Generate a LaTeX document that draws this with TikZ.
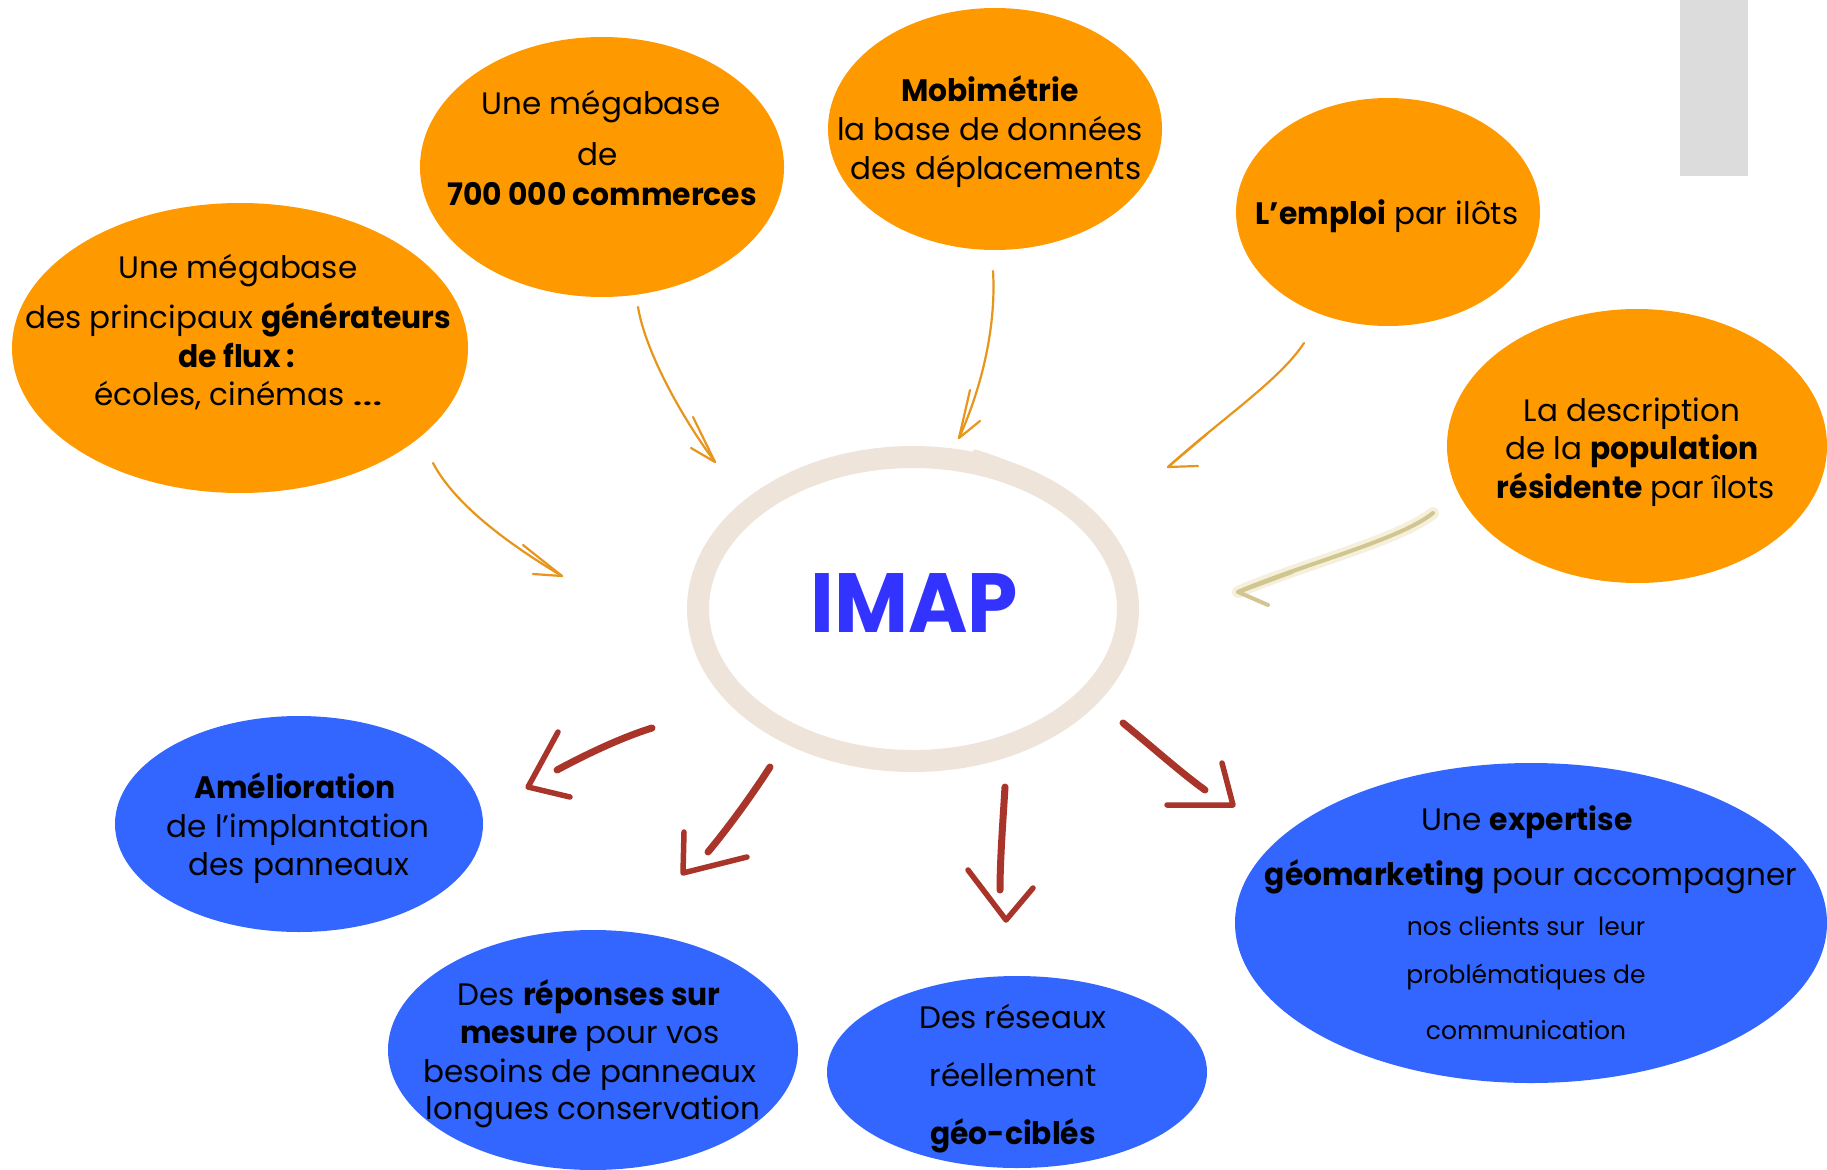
\documentclass[tikz,border=0pt]{standalone}
\usepackage{fontspec}
\usepackage{graphicx}
\setmainfont{Poppins}[BoldFeatures={FakeStretch=0.96}]
\usetikzlibrary{shapes.geometric}
\definecolor{orng}{HTML}{FF9900}
\definecolor{blu}{HTML}{3366FF}
\definecolor{imapblue}{HTML}{3333FF}
\definecolor{ringc}{HTML}{EFE4DA}
\definecolor{pen}{HTML}{E8951C}
\definecolor{brush}{HTML}{A8342A}
\definecolor{faded}{HTML}{D2C690}
\definecolor{fadedbg}{HTML}{F4F0DC}
\definecolor{greybar}{HTML}{DCDCDC}
\newcommand\txtm{\fontsize{31}{37}\selectfont}
\newcommand\txts{\fontsize{25}{30}\selectfont}
\begin{document}
\begin{tikzpicture}[x=1pt,y=-1pt,
  bubble/.style={ellipse, inner sep=0pt, draw=none},
  ob/.style={bubble, fill=orng},
  bb/.style={bubble, fill=blu},
  ln/.style={anchor=base, inner sep=0pt, font=\txtm},
  sm/.style={anchor=base, inner sep=0pt, font=\txts},
  penarrow/.style={draw=pen, line width=2.2pt, line cap=round, line join=round},
  redarrow/.style={draw=brush, line width=7pt, line cap=round, line join=round},
  fadearrow/.style={draw=faded, line width=4pt, line cap=round, line join=round},
]
\useasboundingbox (0,0) rectangle (1827,1169);
\clip (0,0) rectangle (1827,1169);
\fill[white] (0,0) rectangle (1827,1169);

% grey bar
\node[fill=greybar, minimum width=68, minimum height=176, inner sep=0pt, anchor=north west] (bar) at (1680,0) {};

% ellipses
\node[ob, minimum width=456, minimum height=290] (e1) at (240,348) {};
\node[ob, minimum width=364, minimum height=260] (e2) at (602,167) {};
\node[ob, minimum width=334, minimum height=242] (e3) at (995,129) {};
\node[ob, minimum width=304, minimum height=228] (e4) at (1388,212) {};
\node[ob, minimum width=380, minimum height=274] (e5) at (1637,446) {};
\node[bb, minimum width=368, minimum height=216] (e6) at (299,824) {};
\node[bb, minimum width=410, minimum height=240] (e7) at (593,1050) {};
\node[bb, minimum width=380, minimum height=192] (e8) at (1017,1072) {};
\node[bb, minimum width=592, minimum height=320] (e9) at (1531,923) {};

% central ring
\node[ellipse, draw=ringc, line width=22pt, minimum width=430, minimum height=304, inner sep=0pt] (ring) at (913,609) {};
\coordinate (tailA) at (975,452);
\coordinate (tailB) at (1068,500);
\draw[ringc, line width=5pt, line cap=round] (tailA) .. controls (1010,462) and (1040,478) .. (tailB);
\node[anchor=base, inner sep=0pt, text=imapblue, font=\bfseries\fontsize{84}{84}\selectfont] (imap) at (914,632) {IMAP};

% texts
\node[ln] (t1a) at (238,278) {Une mégabase};
\node[ln] (t1b) at (238,328) {des principaux \textbf{générateurs}};
\node[ln] (t1c) at (237,367) {\textbf{de flux :}};
\node[ln] (t1d) at (239,405) {écoles, cinémas \scalebox{1.7}[1]{…}};

\node[ln] (t2a) at (601,115) {Une mégabase};
\node[ln] (t2b) at (598,166) {de};
\node[ln] (t2c) at (602,205) {\textbf{700 000 commerces}};

\node[ln] (t3a) at (990,102) {\textbf{Mobimétrie}};
\node[ln] (t3b) at (990,141) {la base de données};
\node[ln] (t3c) at (996,179) {des déplacements};

\node[ln] (t4a) at (1387,224) {\textbf{L’emploi} par ilôts};

\node[ln] (t5a) at (1632,421) {La description};
\node[ln] (t5b) at (1632,459) {de la \textbf{population}};
\node[ln] (t5c) at (1636,498) {\textbf{résidente} par îlots};

\node[ln] (t6a) at (295,798) {\textbf{Amélioration}};
\node[ln] (t6b) at (298,837) {de l’implantation};
\node[ln] (t6c) at (299,875) {des panneaux};

\node[ln] (t7a) at (589,1005) {Des \textbf{réponses sur}};
\node[ln] (t7b) at (590,1043) {\textbf{mesure} pour vos};
\node[ln] (t7c) at (590,1082) {besoins de panneaux};
\node[ln] (t7d) at (593,1119) {longues conservation};

\node[ln] (t8a) at (1013,1028) {Des réseaux};
\node[ln] (t8b) at (1013,1086) {réellement};
\node[ln] (t8c) at (1013,1144) {\textbf{géo-ciblés}};

\node[ln] (t9a) at (1527,830) {Une \textbf{expertise}};
\node[ln] (t9b) at (1531,885) {\textbf{géomarketing} pour accompagner};
\node[sm] (t9c) at (1526,935) {nos clients sur\ \ leur};
\node[sm] (t9d) at (1526,983) {problématiques de};
\node[sm] (t9e) at (1526,1039) {communication};

% orange pen arrows
\coordinate (a1s) at (433,463); \coordinate (a1t) at (562,576);
\coordinate (a1p) at (523,545); \coordinate (a1q) at (533,574);
\draw[penarrow] (a1s) .. controls (455,505) and (510,545) .. (a1t);
\draw[penarrow] (a1p) -- (a1t) -- (a1q);

\coordinate (a2s) at (638,307); \coordinate (a2t) at (715,462);
\coordinate (a2p) at (693,417); \coordinate (a2q) at (691,448);
\draw[penarrow] (a2s) .. controls (645,350) and (680,415) .. (a2t);
\draw[penarrow] (a2p) -- (a2t) -- (a2q);

\coordinate (a3s) at (993,271); \coordinate (a3t) at (959,438);
\coordinate (a3p) at (970,390); \coordinate (a3q) at (980,421);
\draw[penarrow] (a3s) .. controls (996,320) and (985,380) .. (a3t);
\draw[penarrow] (a3p) -- (a3t) -- (a3q);

\coordinate (a4s) at (1304,343); \coordinate (a4t) at (1168,467);
\coordinate (a4p) at (1208,433); \coordinate (a4q) at (1198,466);
\draw[penarrow] (a4s) .. controls (1280,380) and (1220,420) .. (a4t);
\draw[penarrow] (a4p) -- (a4t) -- (a4q);

% faded arrow
\coordinate (a5s) at (1433,513); \coordinate (a5t) at (1238,592);
\coordinate (a5p) at (1292,572); \coordinate (a5q) at (1268,605);
\draw[fadedbg, line width=12pt, line cap=round] (a5s) .. controls (1400,540) and (1300,565) .. (a5t);
\draw[fadearrow] (a5s) .. controls (1400,540) and (1300,565) .. (a5t);
\draw[fadearrow] (a5p) -- (a5t) -- (a5q);

% red brush arrows
\coordinate (r1s) at (652,728); \coordinate (r1e) at (557,770);
\coordinate (r1t) at (528,787); \coordinate (r1p) at (558,732); \coordinate (r1q) at (570,797);
\draw[redarrow] (r1s) .. controls (620,738) and (585,755) .. (r1e);
\draw[redarrow, line width=5.5pt] (r1p) -- (r1t) -- (r1q);

\coordinate (r2s) at (770,767); \coordinate (r2e) at (708,852);
\coordinate (r2t) at (683,873); \coordinate (r2p) at (684,832); \coordinate (r2q) at (747,857);
\draw[redarrow] (r2s) .. controls (752,795) and (728,828) .. (r2e);
\draw[redarrow, line width=5.5pt] (r2p) -- (r2t) -- (r2q);

\coordinate (r3s) at (1005,787); \coordinate (r3e) at (1000,890);
\coordinate (r3t) at (1006,920); \coordinate (r3p) at (968,870); \coordinate (r3q) at (1033,888);
\draw[redarrow] (r3s) .. controls (1003,820) and (1000,860) .. (r3e);
\draw[redarrow, line width=5.5pt] (r3p) -- (r3t) -- (r3q);

\coordinate (r4s) at (1123,723); \coordinate (r4e) at (1205,790);
\coordinate (r4t) at (1233,805); \coordinate (r4p) at (1222,763); \coordinate (r4q) at (1167,805);
\draw[redarrow] (r4s) .. controls (1150,745) and (1180,772) .. (r4e);
\draw[redarrow, line width=5.5pt] (r4p) -- (r4t) -- (r4q);
\end{tikzpicture}
\end{document}
